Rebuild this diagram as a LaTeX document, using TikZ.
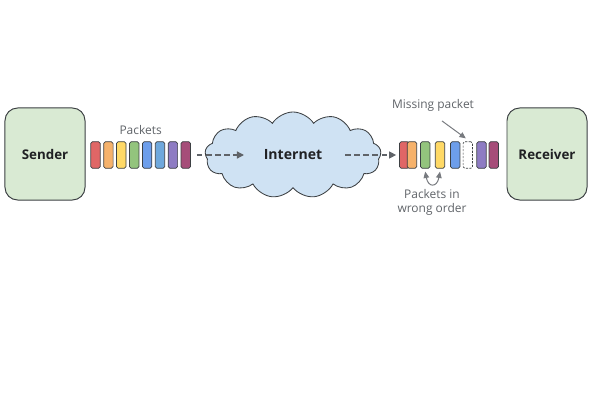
\documentclass[tikz,border=0pt]{standalone}
\usepackage{fontspec}
\setmainfont{Open Sans}
\usepackage{xcolor}
\definecolor{pkink}{HTML}{202124}
\definecolor{pkedge}{HTML}{3C4043}
\definecolor{pkmuted}{HTML}{5F6368}
\definecolor{pkhost}{HTML}{D9EAD3}
\definecolor{pksky}{HTML}{CFE2F3}
\definecolor{pkred}{HTML}{E06666}
\definecolor{pkorange}{HTML}{F6B26B}
\definecolor{pkyellow}{HTML}{FFD966}
\definecolor{pkgreen}{HTML}{93C47D}
\definecolor{pkblue}{HTML}{6D9EEB}
\definecolor{pkteal}{HTML}{6FA8DC}
\definecolor{pkpurple}{HTML}{8E7CC3}
\definecolor{pkplum}{HTML}{A64D79}
\usepackage{tikz}
\usetikzlibrary{arrows.meta,positioning,calc,shapes.symbols}
\tikzset{
  pkhostbox/.style={rectangle, rounded corners=9pt, draw=pkedge, fill=pkhost,
                    line width=0.7pt, minimum width=2cm, minimum height=2.3cm,
                    font=\fontsize{9.5}{11}\selectfont\bfseries, text=pkink},
  pkcloud/.style  ={cloud, cloud puffs=13, cloud puff arc=115, aspect=2,
                    draw=pkedge, fill=pksky, line width=0.6pt,
                    minimum width=4.4cm, minimum height=2.15cm, inner sep=0pt,
                    font=\fontsize{10}{12}\selectfont\bfseries, text=pkink},
  pkcell/.style   ={rectangle, rounded corners=1.2pt, draw=pkedge, line width=0.5pt,
                    minimum width=0.235cm, minimum height=0.665cm, inner sep=0pt},
  pkgap/.style    ={pkcell, fill=white, dashed, dash pattern=on 1.5pt off 1pt},
  pkflow/.style   ={-{Triangle[length=5pt,width=5pt]}, line width=0.9pt, draw=pkmuted,
                    dash pattern=on 4pt off 2.5pt},
  pkpoint/.style  ={-{Triangle[length=4.5pt,width=4pt]}, line width=0.7pt, draw=pkmuted!85},
  pklbl/.style    ={font=\fontsize{8.5}{10.5}\selectfont, text=pkmuted, align=center},
}

\begin{document}
\begin{tikzpicture}[x=0.025cm, y=-0.025cm]
  \useasboundingbox (0,0) rectangle (600,400);
  % hosts
  \node[pkhostbox] (sender) at (45,154) {Sender};
  \node[pkhostbox] (recv) at (547,154) {Receiver};
  % network
  \node[pkcloud] (net) at (293,155) {Internet};
  % packets leaving the sender
  \foreach \c [count=\i] in {pkred,pkorange,pkyellow,pkgreen,pkblue,pkteal,pkpurple,pkplum}{
    \node[pkcell, fill=\c] (p\i) at ({95.5+12.9*(\i-1)},155) {};
  }
  \node[pklbl, anchor=south] (sentlbl) at ($(p4.north)!0.5!(p5.north)+(0,-2)$) {Packets};
  % packets at the receiver
  \node[pkcell, fill=pkred]    (q1) at (404.2,155) {};
  \node[pkcell, fill=pkorange] (q2) at (412,155) {};
  \node[pkcell, fill=pkgreen]  (q3) at (425.2,155) {};
  \node[pkcell, fill=pkyellow] (q4) at (440,155) {};
  \node[pkcell, fill=pkblue]   (q5) at (455.2,155) {};
  \node[pkgap]                 (q6) at (467.8,155) {};
  \node[pkcell, fill=pkpurple] (q7) at (481.5,155) {};
  \node[pkcell, fill=pkplum]   (q8) at (493.7,155) {};
  \draw[pkflow] ($(p8.east)+(6,0)$) -- ($(net.center)+(-49,0)$);
  \draw[pkflow] ($(net.center)+(52,0)$) -- ($(q1.west)+(-3,0)$);
  % annotations
  \node[pklbl] (mislbl) at (433,105) {Missing packet};
  \draw[pkpoint] ($(mislbl.south)+(9,5)$) -- ($(q6.north)+(-2,-3)$);
  \node[pklbl, anchor=north] (ordlbl) at (432,184) {Packets in\\wrong order};
  \draw[pkpoint, {Triangle[length=4.5pt,width=4pt]}-{Triangle[length=4.5pt,width=4pt]}]
    ($(q3.south)+(0,3)$) .. controls ($(q3.south)+(3,19)$) and ($(q4.south)+(-3,19)$) .. ($(q4.south)+(0,3)$);
\end{tikzpicture}
\end{document}
